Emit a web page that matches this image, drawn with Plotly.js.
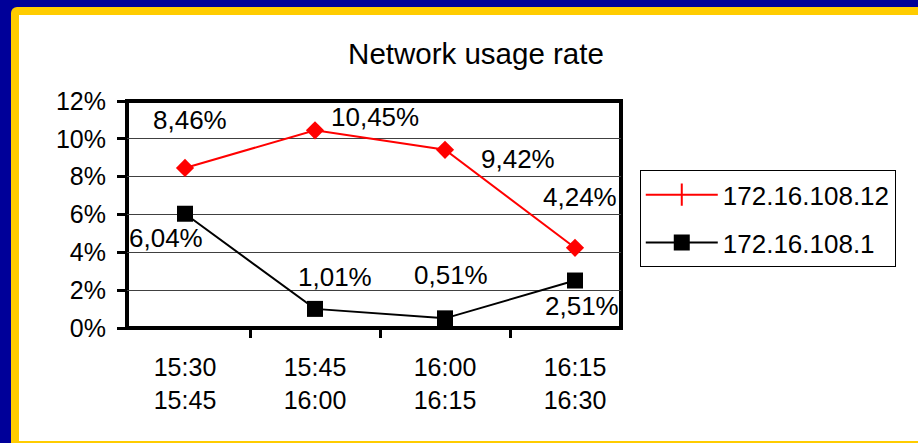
<!DOCTYPE html>
<html><head><meta charset="utf-8">
<script src="https://cdn.plot.ly/plotly-3.0.1.min.js"></script>
<style>
html,body{margin:0;padding:0;width:918px;height:443px;overflow:hidden;background:#000099;}
#yel{position:absolute;left:11px;top:7px;width:920px;height:440px;background:#ffcc00;border-top-left-radius:6px;}
#wht{position:absolute;left:19px;top:15px;width:910px;height:426px;background:#fff;}
#chart{position:absolute;left:0;top:0;width:918px;height:443px;}
</style></head><body>
<div id="yel"></div><div id="wht"></div><div id="chart"></div>
<script>
// ---- data ----
var categories = ['15:30<br>15:45', '15:45<br>16:00', '16:00<br>16:15', '16:15<br>16:30'];
var seriesNames = ['172.16.108.12', '172.16.108.1'];
var values12 = [8.46, 10.45, 9.42, 4.24];   // percent
var values1 = [6.04, 1.01, 0.51, 2.51];     // percent
var yTicks = [0, 2, 4, 6, 8, 10, 12];
var yTickLabels = ['0%', '2%', '4%', '6%', '8%', '10%', '12%'];

// ---- label offsets (pixels) ----
var off12 = [[5, 48], [60, 13], [73, -9], [5, 51]];
var off1 = [[-19, -24], [20, 32], [6, 43], [7, -25]];

var FONT = 'Liberation Sans, Arial, sans-serif';
function fmt(v) { return v.toFixed(2).replace('.', ',') + '%'; }

var traces = [
  { // legend entry for red series (legend symbol differs from plot marker)
    x: [null], y: [null], type: 'scatter', mode: 'lines+markers', name: seriesNames[0],
    legendgroup: 'a',
    line: { color: '#ff0000', width: 2 },
    marker: { symbol: 'line-ns', size: 16, color: '#ff0000', line: { color: '#ff0000', width: 2 } },
    hoverinfo: 'skip'
  },
  {
    x: categories, y: values1, type: 'scatter', mode: 'lines+markers', name: seriesNames[1],
    legendgroup: 'b', cliponaxis: false,
    line: { color: '#000000', width: 2 },
    marker: { symbol: 'square', size: 16, color: '#000000' }
  },
  {
    x: categories, y: values12, type: 'scatter', mode: 'lines+markers', name: seriesNames[0],
    showlegend: false, cliponaxis: false,
    line: { color: '#ff0000', width: 2 },
    marker: { symbol: 'diamond', size: 14, color: '#ff0000' }
  }
];

var annotations = [];
function addLabels(vals, offs) {
  for (var i = 0; i < vals.length; i++) {
    annotations.push({
      x: categories[i], y: vals[i], xref: 'x', yref: 'y', text: fmt(vals[i]),
      showarrow: false, xshift: offs[i][0], yshift: offs[i][1],
      xanchor: 'center', yanchor: 'middle',
      font: { family: FONT, size: 26, color: '#000' }
    });
  }
}
addLabels(values12, off12);
addLabels(values1, off1);

var layout = {
  width: 918, height: 443,
  paper_bgcolor: 'rgba(0,0,0,0)', plot_bgcolor: '#ffffff',
  margin: { l: 127, r: 297, t: 101, b: 115, pad: 0 },
  font: { family: FONT, size: 25, color: '#000' },
  title: {
    text: 'Network usage rate', font: { family: FONT, size: 29.5, color: '#000' },
    x: 0.5185, xref: 'container', xanchor: 'center',
    y: 0.879, yref: 'container', yanchor: 'middle'
  },
  xaxis: {
    type: 'category', categoryorder: 'array', categoryarray: categories,
    showline: false,
    ticks: 'outside', tickson: 'boundaries', ticklen: 9, tickwidth: 3, tickcolor: '#000',
    showgrid: false, zeroline: false, fixedrange: true,
    tickfont: { family: FONT, size: 25, color: '#000' },
    ticklabelstandoff: 22
  },
  yaxis: {
    range: [0, 12], tickmode: 'array', tickvals: yTicks, ticktext: yTickLabels,
    showline: false,
    ticks: 'outside', ticklen: 9, tickwidth: 3, tickcolor: '#000',
    showgrid: true, gridcolor: '#404040', gridwidth: 1, zeroline: false, fixedrange: true,
    tickfont: { family: FONT, size: 25, color: '#000' },
    ticklabelstandoff: 6
  },
  shapes: [{
    type: 'rect', xref: 'paper', yref: 'paper', x0: 0, x1: 1, y0: 0, y1: 1,
    line: { color: '#000', width: 4 }, fillcolor: 'rgba(0,0,0,0)', layer: 'below'
  }],
  showlegend: true,
  legend: {
    x: 1.038, xref: 'paper', xanchor: 'left',
    y: 0.695, yref: 'paper', yanchor: 'top',
    bgcolor: '#ffffff', bordercolor: '#000', borderwidth: 1,
    font: { family: FONT, size: 26, color: '#000' },
    itemwidth: 72, tracegroupgap: 11, traceorder: 'grouped'
  },
  annotations: annotations
};

Plotly.newPlot('chart', traces, layout, { displayModeBar: false, staticPlot: true });
</script>
</body></html>
